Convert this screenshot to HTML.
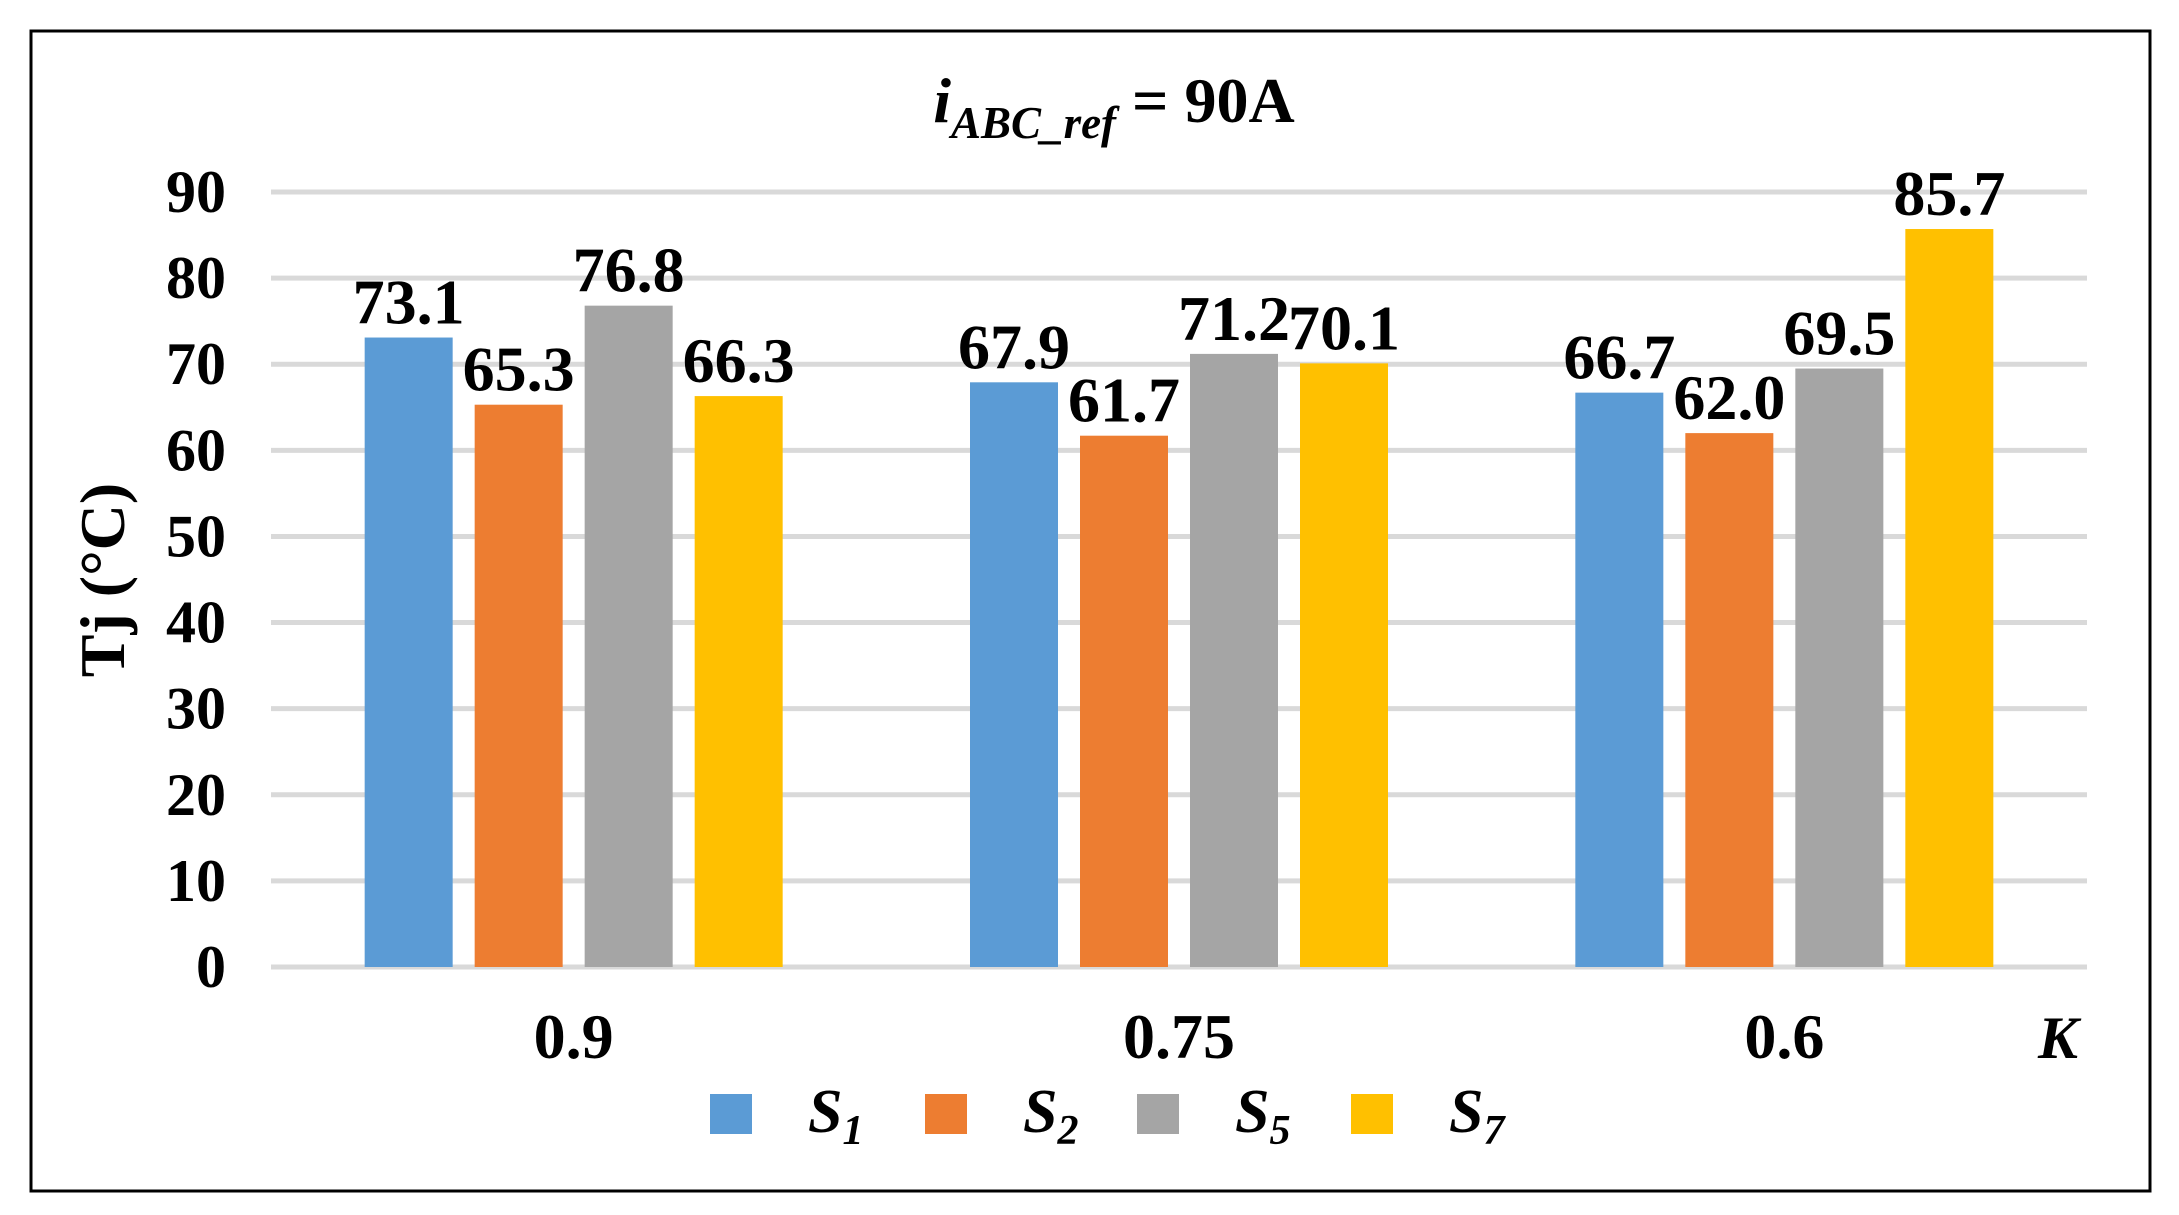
<!DOCTYPE html>
<html><head><meta charset="utf-8"><style>
html,body{margin:0;padding:0;background:#fff;width:2179px;height:1215px;overflow:hidden}
svg text{font-family:"Liberation Serif",serif;font-weight:bold;fill:#000}
</style></head><body>
<svg id="chart" width="2179" height="1215" viewBox="0 0 2179 1215" xmlns="http://www.w3.org/2000/svg">
<rect x="31" y="31" width="2119" height="1160" fill="#fff" stroke="#000" stroke-width="3"/>
<text x="1114" y="122" font-size="64" text-anchor="middle"><tspan font-style="italic">i</tspan><tspan font-style="italic" font-size="45" dy="16">ABC_ref</tspan><tspan dy="-16"> = 90A</tspan></text>
<g id="grid"></g>
<g id="bars"></g>
<g id="labels"></g>
<text transform="translate(124,580) rotate(-90)" font-size="64" text-anchor="middle">Tj (°C)</text>
<text x="2058" y="1058" font-size="60" font-style="italic" text-anchor="middle">K</text>
<g id="legend"></g>
</svg>
<script>
const categories = ["0.9", "0.75", "0.6"];
const seriesNames = ["S1", "S2", "S5", "S7"];
const s1 = [73.1, 67.9, 66.7];
const s2 = [65.3, 61.7, 62.0];
const s5 = [76.8, 71.2, 69.5];
const s7 = [66.3, 70.1, 85.7];
const yTicks = [0, 10, 20, 30, 40, 50, 60, 70, 80, 90];
const series = [s1, s2, s5, s7];
const colors = ["#5B9BD5", "#ED7D31", "#A5A5A5", "#FFC000"];
const NS = "http://www.w3.org/2000/svg";
const plotL = 271, plotR = 2087, y0 = 967, y90 = 192;
const yScale = v => y0 - (v / 90) * (y0 - y90);
const catW = (plotR - plotL) / categories.length;
const barW = 88, gap = 22;
const xCenter = i => plotL + catW * (i + 0.5);
function mk(tag, attrs, parent) { const e = document.createElementNS(NS, tag); for (const k in attrs) e.setAttribute(k, attrs[k]); parent.appendChild(e); return e; }
const grid = document.getElementById('grid');
yTicks.forEach(t => {
  const l = mk('line', {x1: plotL, x2: plotR, y1: yScale(t), y2: yScale(t), stroke: '#D9D9D9', 'stroke-width': 5}, grid);
  
  
  const tx = mk('text', {x: 226, y: yScale(t) + 20, 'font-size': 60, 'text-anchor': 'end'}, grid);
  tx.textContent = t;
  
  
});
const bars = document.getElementById('bars'), labels = document.getElementById('labels');
const groupW = series.length * barW + (series.length - 1) * gap;
categories.forEach((c, i) => {
  const start = xCenter(i) - groupW / 2;
  series.forEach((s, j) => {
    const x = start + j * (barW + gap);
    const r = mk('rect', {x: x, y: yScale(s[i]), width: barW, height: y0 - yScale(s[i]), fill: colors[j]}, bars);
    
    
    const t = mk('text', {x: x + barW / 2, y: yScale(s[i]) - 14, 'font-size': 64, 'text-anchor': 'middle'}, labels);
    t.textContent = s[i].toFixed(1);
    
    
  });
  const ct = mk('text', {x: xCenter(i), y: 1058, 'font-size': 64, 'text-anchor': 'middle'}, labels);
  ct.textContent = c;
  
  
});
const legend = document.getElementById('legend');
const legX = [710, 925, 1137, 1351];
const subs = ["1", "2", "5", "7"];
seriesNames.forEach((n, j) => {
  const g = mk('g', {}, legend);
  
  
  mk('rect', {x: legX[j], y: 1094, width: 42, height: 40, fill: colors[j]}, g);
  const t = mk('text', {x: legX[j] + 98, y: 1132, 'font-size': 62, 'font-style': 'italic'}, g);
  t.innerHTML = 'S<tspan font-size="42" dy="12">' + subs[j] + '</tspan>';
});
</script>
</body></html>
